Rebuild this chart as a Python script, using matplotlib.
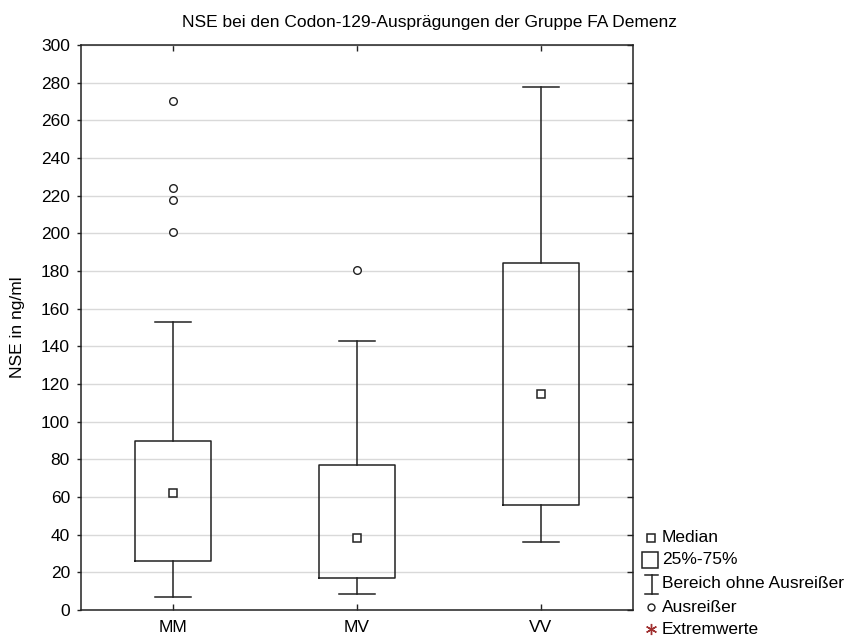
import matplotlib
matplotlib.use("Agg")
import matplotlib.pyplot as plt
from matplotlib.lines import Line2D
from matplotlib.patches import Rectangle

# ==============================
# DATA
# ==============================

categories = ["MM", "MV", "VV"]
q1 = [26, 17, 55.5]
medians = [62, 38, 114.5]
q3 = [90, 77, 184]
whisker_low = [7, 8.5, 36]
whisker_high = [153, 143, 277.5]
outliers = [[270, 224, 217.5, 200.5], [180.5], []]

title = "NSE bei den Codon-129-Ausprägungen der Gruppe FA Demenz"
ylabel = "NSE in ng/ml"
legend_labels = ["Median", "25%-75%", "Bereich ohne Ausreißer", "Ausreißer", "Extremwerte"]

# ==============================
# STYLE
# ==============================

plt.rcParams["font.family"] = ["Liberation Sans", "DejaVu Sans"]
LINE = "#222222"
GRID = "#d9d9d9"
EXTREME = "#a03030"
W, H = 858, 644


def fx(px):
    return px / W


def fy(py):
    return 1 - py / H


fig = plt.figure(figsize=(W / 100, H / 100), dpi=100)
ax = fig.add_axes([fx(81), fy(610), fx(633) - fx(81), fy(45) - fy(610)])

stats = []
for i, name in enumerate(categories):
    stats.append({
        "label": name,
        "q1": q1[i],
        "med": medians[i],
        "q3": q3[i],
        "mean": medians[i],
        "whislo": whisker_low[i],
        "whishi": whisker_high[i],
        "fliers": outliers[i],
    })

ax.bxp(
    stats,
    positions=range(1, len(categories) + 1),
    widths=0.41,
    capwidths=0.2,
    showmeans=True,
    boxprops=dict(color=LINE, linewidth=1.1),
    whiskerprops=dict(color=LINE, linewidth=1.1),
    capprops=dict(color=LINE, linewidth=1.1),
    medianprops=dict(linestyle="none"),
    meanprops=dict(marker="s", markerfacecolor="white", markeredgecolor=LINE,
                   markersize=6, markeredgewidth=1.1),
    flierprops=dict(marker="o", markerfacecolor="white", markeredgecolor=LINE,
                    markersize=5.5, markeredgewidth=1.0),
    zorder=3,
)

ax.set_xlim(0.5, 3.5)
ax.set_ylim(0, 300)
ax.set_yticks(range(0, 301, 20))
ax.set_xticks(range(1, len(categories) + 1))
ax.set_xticklabels(categories)
ax.yaxis.grid(True, color=GRID, linewidth=1.0, zorder=0)
ax.set_axisbelow(True)

for sp in ax.spines.values():
    sp.set_color(LINE)
    sp.set_linewidth(1.1)

ax.tick_params(axis="y", left=True, right=True, direction="out", length=3,
               width=1, color=LINE, labelsize=12.5, pad=5)
ax.tick_params(axis="y", which="major", right=True)
ax.yaxis.set_tick_params(which="major", direction="out")
ax.tick_params(axis="x", top=True, bottom=True, direction="in", length=4,
               width=1, color=LINE, labelsize=12.5, pad=7)
# right ticks point inward
for t in ax.yaxis.get_major_ticks():
    t.tick2line.set_marker(0)
    t.tick2line.set_markersize(4)

fig.text(0.5, fy(27), title, ha="center", va="baseline", fontsize=12.5)
fig.text(fx(18), fy(327), ylabel, ha="center", va="center", rotation=90, fontsize=12.5)

# ==============================
# LEGEND (drawn by hand)
# ==============================

mx = 651
ys = [538, 560, 584, 607, 629]
tx = 662

fig.add_artist(Line2D([fx(mx)], [fy(ys[0])], marker="s", markersize=6,
                      markerfacecolor="white", markeredgecolor=LINE,
                      markeredgewidth=1.1, transform=fig.transFigure))
fig.add_artist(Rectangle((fx(642), fy(ys[1] + 8)), fx(658) - fx(642), fy(ys[1] - 8) - fy(ys[1] + 8),
                         facecolor="white", edgecolor=LINE, linewidth=1.1,
                         transform=fig.transFigure))
for seg in [([645, 658], [ys[2] - 9, ys[2] - 9]),
            ([651.5, 651.5], [ys[2] - 9, ys[2] + 10]),
            ([645, 658], [ys[2] + 10, ys[2] + 10])]:
    fig.add_artist(Line2D([fx(v) for v in seg[0]], [fy(v) for v in seg[1]],
                          color=LINE, linewidth=1.1, transform=fig.transFigure))
fig.add_artist(Line2D([fx(mx)], [fy(ys[3])], marker="o", markersize=5,
                      markerfacecolor="white", markeredgecolor=LINE,
                      markeredgewidth=1.0, transform=fig.transFigure))
fig.add_artist(Line2D([fx(mx)], [fy(ys[4])], marker=(6, 2, 0), markersize=8,
                      color=EXTREME, markeredgewidth=1.0, transform=fig.transFigure))

for y, lab in zip(ys, legend_labels):
    fig.text(fx(tx), fy(y), lab, ha="left", va="center", fontsize=12.5)

fig.savefig("out.png", dpi=100, facecolor="white")
